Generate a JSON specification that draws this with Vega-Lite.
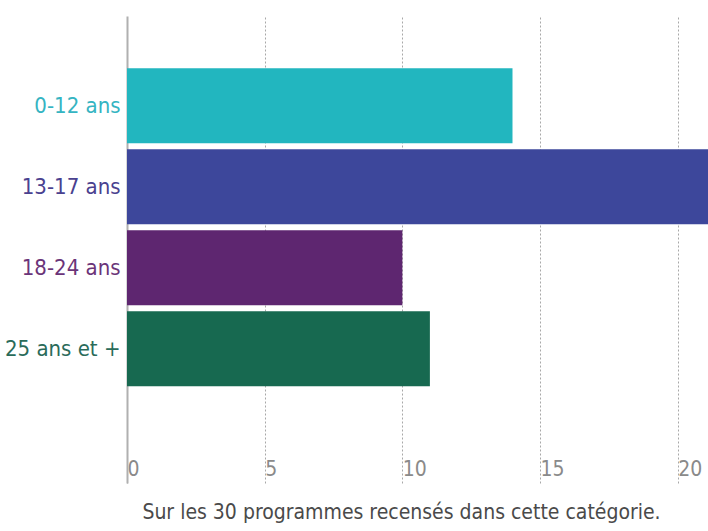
{
  "$schema": "https://vega.github.io/schema/vega-lite/v6.json",
  "width": 581,
  "height": 467,
  "autosize": {"type": "none"},
  "padding": {"left": 127, "top": 16, "right": 0, "bottom": 48},
  "background": "white",
  "config": {
    "view": {"stroke": null},
    "font": "Liberation Sans Narrow, DejaVu Sans Condensed, sans-serif"
  },
  "data": {
    "values": [
      {"groupe": "0-12 ans", "programmes": 14},
      {"groupe": "13-17 ans", "programmes": 22},
      {"groupe": "18-24 ans", "programmes": 10},
      {"groupe": "25 ans et +", "programmes": 11}
    ]
  },
  "mark": {"type": "bar", "clip": true},
  "encoding": {
    "y": {
      "field": "groupe",
      "type": "nominal",
      "sort": ["0-12 ans", "13-17 ans", "18-24 ans", "25 ans et +"],
      "scale": {"paddingInner": 0.074, "paddingOuter": 0.92, "align": 0.35},
      "axis": {
        "title": null,
        "ticks": false,
        "domainColor": "#b0b0b0",
        "domainWidth": 2,
        "labelFontSize": 22,
        "labelPadding": 7,
        "labelColor": {
          "condition": [
            {"test": "datum.value == '0-12 ans'", "value": "#35b4c2"},
            {"test": "datum.value == '13-17 ans'", "value": "#4a418f"},
            {"test": "datum.value == '18-24 ans'", "value": "#6b3479"}
          ],
          "value": "#2a6b5a"
        }
      }
    },
    "x": {
      "field": "programmes",
      "type": "quantitative",
      "scale": {"domain": [0, 21.1], "nice": false},
      "axis": {
        "values": [0, 5, 10, 15, 20],
        "domain": false,
        "ticks": false,
        "grid": true,
        "gridDash": [2, 2],
        "gridColor": "#a8a8a8",
        "gridWidth": 1,
        "labelFontSize": 21,
        "labelColor": "#8a8a8a",
        "labelAlign": "left",
        "labelDx": 4,
        "labelBaseline": "alphabetic",
        "labelPadding": -8,
        "labelFlush": false,
        "title": "Sur les 30 programmes recensés dans cette catégorie.",
        "titleFontSize": 21,
        "titleFontWeight": "normal",
        "titleColor": "#4a4a4a",
        "titleX": 274,
        "titleY": 35,
        "titleBaseline": "alphabetic",
        "titleAnchor": null,
        "titleAlign": "center"
      }
    },
    "color": {
      "field": "groupe",
      "type": "nominal",
      "scale": {
        "domain": ["0-12 ans", "13-17 ans", "18-24 ans", "25 ans et +"],
        "range": ["#22b6bf", "#3d479b", "#5e2670", "#176950"]
      },
      "legend": null
    }
  }
}
